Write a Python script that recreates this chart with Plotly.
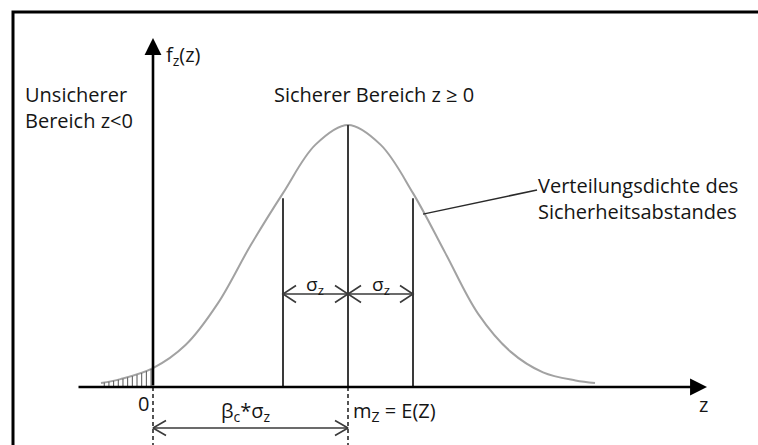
import numpy as np
import plotly.graph_objects as go

# Density of the safety margin Z: position in units of sigma_z, height relative to the peak
curve_z = [-0.8, -0.5, 0.0, 0.5, 1.0, 1.5, 2.0, 2.5, 3.0, 3.5, 4.0, 4.5, 5.0, 5.5, 6.0, 6.5, 6.8]
curve_f = [0.015, 0.03, 0.072, 0.16, 0.32, 0.54, 0.74, 0.925, 1.0, 0.925, 0.74, 0.51, 0.28, 0.135, 0.056, 0.025, 0.015]

mean_z = 3.0      # m_Z = E(Z) = beta_c * sigma_z
sigma_z = 1.0
origin_z = 0.0

# label texts
label_fz = "f<sub>z</sub>(z)"
label_unsafe = "Unsicherer<br>Bereich z&lt;0"
label_safe = "Sicherer Bereich z ≥ 0"
label_density = "Verteilungsdichte des<br>Sicherheitsabstandes"
label_sigma = "σ<sub>z</sub>"
label_zero = "0"
label_beta = "β<sub>c</sub>*σ<sub>z</sub>"
label_mean = "m<sub>Z</sub> = E(Z)"
label_z = "z"

W, H = 758, 445
X_RANGE = [-2.3538, 9.3077]
Y_RANGE = [-0.2214, 1.4771]
PX_PER_X = W / (X_RANGE[1] - X_RANGE[0])
PX_PER_Y = H / (Y_RANGE[1] - Y_RANGE[0])

FONT = "Open Sans"
TEXT_COLOR = "#151515"
CURVE_COLOR = "#a2a2a2"
LINE_COLOR = "#3a3a3a"


def dens(z):
    """Curve height at z, interpolated from the listed points (log scale)."""
    return float(np.exp(np.interp(z, curve_z, np.log(curve_f))))


def px(x, y):
    """Pixel position -> paper coordinates."""
    return x / W, 1 - y / H


fig = go.Figure()

# density curve
fig.add_trace(go.Scatter(
    x=curve_z, y=curve_f, mode="lines",
    line=dict(color=CURVE_COLOR, width=2, shape="spline", smoothing=1.0),
    hoverinfo="skip"))

# hatched failure area under the left tail (z < 0)
hatch_z = np.linspace(curve_z[0] + 0.05, origin_z - 0.03, 11)
hx, hy = [], []
for z in hatch_z:
    hx += [z, z, None]
    hy += [0, dens(z), None]
fig.add_trace(go.Scatter(x=hx, y=hy, mode="lines",
                         line=dict(color="#555555", width=1), hoverinfo="skip"))

# vertical lines at m_Z - sigma, m_Z, m_Z + sigma
vx, vy = [], []
for z, top in [(mean_z - sigma_z, dens(mean_z - sigma_z) - 0.02),
               (mean_z, dens(mean_z)),
               (mean_z + sigma_z, dens(mean_z + sigma_z) - 0.02)]:
    vx += [z, z, None]
    vy += [0, top, None]
fig.add_trace(go.Scatter(x=vx, y=vy, mode="lines",
                         line=dict(color=LINE_COLOR, width=2), hoverinfo="skip"))

# dashed drop lines below the axis at 0 and m_Z
dx, dy = [], []
for z in (origin_z, mean_z):
    dx += [z, z, None]
    dy += [0, Y_RANGE[0], None]
fig.add_trace(go.Scatter(x=dx, y=dy, mode="lines",
                         line=dict(color="#2a2a2a", width=1.6, dash="4px,3px"),
                         hoverinfo="skip"))

# leader line to the curve label
lead_z = mean_z + 1.154
fig.add_trace(go.Scatter(x=[lead_z, 5.908], y=[dens(lead_z), 0.752], mode="lines",
                         line=dict(color="#2a2a2a", width=1.5), hoverinfo="skip"))


def dimension(z0, z1, h, head_len=13, head_half=8.5):
    """Double-headed dimension line with open chevrons, sizes in pixels."""
    cl = head_len / PX_PER_X
    ch = head_half / PX_PER_Y
    xs = [z0, z1, None,
          z0 + cl, z0, z0 + cl, None,
          z1 - cl, z1, z1 - cl, None]
    ys = [h, h, None,
          h + ch, h, h - ch, None,
          h + ch, h, h - ch, None]
    fig.add_trace(go.Scatter(x=xs, y=ys, mode="lines",
                             line=dict(color=LINE_COLOR, width=1.6),
                             hoverinfo="skip"))


# sigma_z dimension arrows
dimension(mean_z - sigma_z, mean_z, 0.355)
dimension(mean_z, mean_z + sigma_z, 0.355)
# beta_c * sigma_z dimension arrow
dimension(origin_z, mean_z, -0.1565, head_half=7.5)

annotations = []


def axis_arrow(x0, y0, x1, y1):
    annotations.append(dict(x=x1, y=y1, ax=x0, ay=y0, xref="x", yref="y",
                            axref="x", ayref="y", text="", showarrow=True,
                            arrowhead=2, arrowsize=1.3, arrowwidth=2.6,
                            arrowcolor="#000000", standoff=0, startstandoff=0))


# coordinate axes
axis_arrow(-1.169, 0, 8.523, 0)
axis_arrow(origin_z, 0, origin_z, 1.332)


def label(text, x, y, xanchor="left", yanchor="middle", size=20):
    xp, yp = px(x, y)
    annotations.append(dict(x=xp, y=yp, xref="paper", yref="paper", text=text,
                            showarrow=False, xanchor=xanchor, yanchor=yanchor,
                            align="left", font=dict(family=FONT, size=size, color=TEXT_COLOR)))


label(label_fz, 164, 56)
label(label_unsafe, 23, 108)
label(label_safe, 374, 95, xanchor="center")
label(label_density, 536, 198)
label(label_sigma, 315, 285, xanchor="center", size=19)
label(label_sigma, 381, 285, xanchor="center", size=19)
label(label_zero, 151, 403, xanchor="right")
label(label_beta, 246, 411, xanchor="center")
label(label_mean, 351, 411)
label(label_z, 703, 404, xanchor="center")

fig.update_layout(
    width=W, height=H,
    margin=dict(l=0, r=0, t=0, b=0),
    paper_bgcolor="white", plot_bgcolor="white",
    showlegend=False,
    xaxis=dict(range=X_RANGE, visible=False, fixedrange=True),
    yaxis=dict(range=Y_RANGE, visible=False, fixedrange=True),
    annotations=annotations,
    shapes=[dict(type="rect", xref="paper", yref="paper",
                 x0=13 / W, x1=1.05, y0=-0.05, y1=1 - 12 / H,
                 line=dict(color="#000000", width=3))],
)

fig.write_html("out.html")
